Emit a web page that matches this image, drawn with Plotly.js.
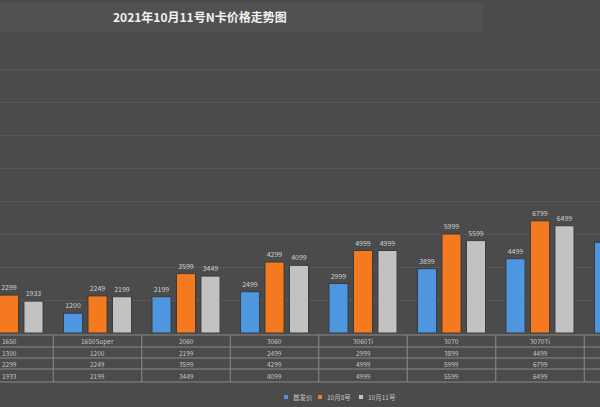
<!DOCTYPE html>
<html>
<head>
<meta charset="utf-8">
<script src="https://cdn.plot.ly/plotly-3.0.1.min.js"></script>
<style>
html,body{margin:0;padding:0;background:#4b4b4b;}
#chart{width:600px;height:407px;}
</style>
</head>
<body>
<div id="chart"></div>
<script>
const categories = ["1650", "1650Super", "2060", "3060", "3060Ti", "3070", "3070Ti", "3080"];
const seriesNames = ["首发价", "10月8号", "10月11号"];
const launchPrice = [1300, 1200, 2199, 2499, 2999, 3899, 4499, 5499];
const priceOct8 = [2299, 2249, 3599, 4299, 4999, 5999, 6799, 8999];
const priceOct11 = [1933, 2199, 3449, 4099, 4999, 5599, 6499, 8499];
const titleText = "2021年10月11号N卡价格走势图";

const seriesValues = [launchPrice, priceOct8, priceOct11];
const colors = ["#4f96e0", "#f57a1f", "#c2c2c2"];
const font = "Noto Sans CJK SC, Noto Sans, sans-serif";

// pixel helpers (plot area: top 36, bottom 333)
const H = 407, T = 36, B = 333;
const py = p => (B - p) / (B - T);

const traces = seriesValues.map((vals, k) => ({
  type: "bar",
  name: seriesNames[k],
  x: categories,
  y: vals,
  marker: {color: colors[k], line: {color: "#3a3a3a", width: 1}},
  text: vals.map(String),
  textposition: "outside",
  textfont: {size: 7, color: "#d0d0d0", family: font},
  cliponaxis: false,
  showlegend: false,
  hoverinfo: "skip"
}));

const shapes = [];
const annotations = [];

// top navy strip and title band
shapes.push({type: "rect", xref: "paper", yref: "paper", x0: 0, x1: 1, y0: py(0), y1: py(-5), fillcolor: "#1b2742", line: {width: 0}, layer: "below"});
shapes.push({type: "rect", xref: "paper", yref: "paper", x0: 0, x1: 483/600, y0: py(32), y1: py(3), fillcolor: "#515151", line: {width: 0}, layer: "below"});

annotations.push({text: "<b>" + titleText + "</b>", xref: "paper", yref: "paper", x: 200/600, y: py(16), showarrow: false, font: {size: 12, color: "#f2f2f2", family: font}, xanchor: "center", yanchor: "middle"});

// data table
const rowLines = [335, 347, 358, 369, 382];
rowLines.forEach(p => shapes.push({type: "line", xref: "paper", yref: "paper", x0: 0, x1: 1, y0: py(p), y1: py(p), line: {color: "#8a8a8a", width: 1}}));
for (let i = 0; i < categories.length; i++) {
  shapes.push({type: "line", xref: "x", yref: "paper", x0: i + 0.5, x1: i + 0.5, y0: py(335), y1: py(382), line: {color: "#8a8a8a", width: 1}});
}
const rowCenters = [341, 352.5, 363.5, 375.5];
const rows = [categories, launchPrice.map(String), priceOct8.map(String), priceOct11.map(String)];
rows.forEach((row, r) => {
  row.forEach((t, i) => {
    annotations.push({text: t, xref: "x", yref: "paper", x: i, y: py(rowCenters[r]), showarrow: false, font: {size: 6.5, color: "#c4c4c4", family: font}, xanchor: "center", yanchor: "middle"});
  });
});

// legend
const legendX = [284, 318, 359];
seriesNames.forEach((n, k) => {
  const x0 = legendX[k];
  shapes.push({type: "rect", xref: "paper", yref: "paper", x0: x0/600, x1: (x0+4)/600, y0: py(399), y1: py(395), fillcolor: colors[k], line: {width: 0}});
  annotations.push({text: n, xref: "paper", yref: "paper", x: (x0+7)/600, y: py(397), showarrow: false, font: {size: 6.5, color: "#c4c4c4", family: font}, xanchor: "left", yanchor: "middle"});
});

const layout = {
  width: 600, height: 407,
  margin: {l: 0, r: 0, t: T, b: H - B, pad: 0},
  paper_bgcolor: "#4b4b4b",
  plot_bgcolor: "rgba(0,0,0,0)",
  barmode: "group",
  bargap: 0.17,
  bargroupgap: 0.22,
  xaxis: {type: "category", range: [-0.102, 6.678], showticklabels: false, showgrid: false, zeroline: false, showline: false, ticks: ""},
  yaxis: {range: [0, 18000], dtick: 2000, showticklabels: false, gridcolor: "#575757", gridwidth: 1, zeroline: false, showline: false, ticks: ""},
  shapes: shapes,
  annotations: annotations,
  font: {family: font}
};

Plotly.newPlot("chart", traces, layout, {staticPlot: true, displayModeBar: false});
</script>
</body>
</html>
